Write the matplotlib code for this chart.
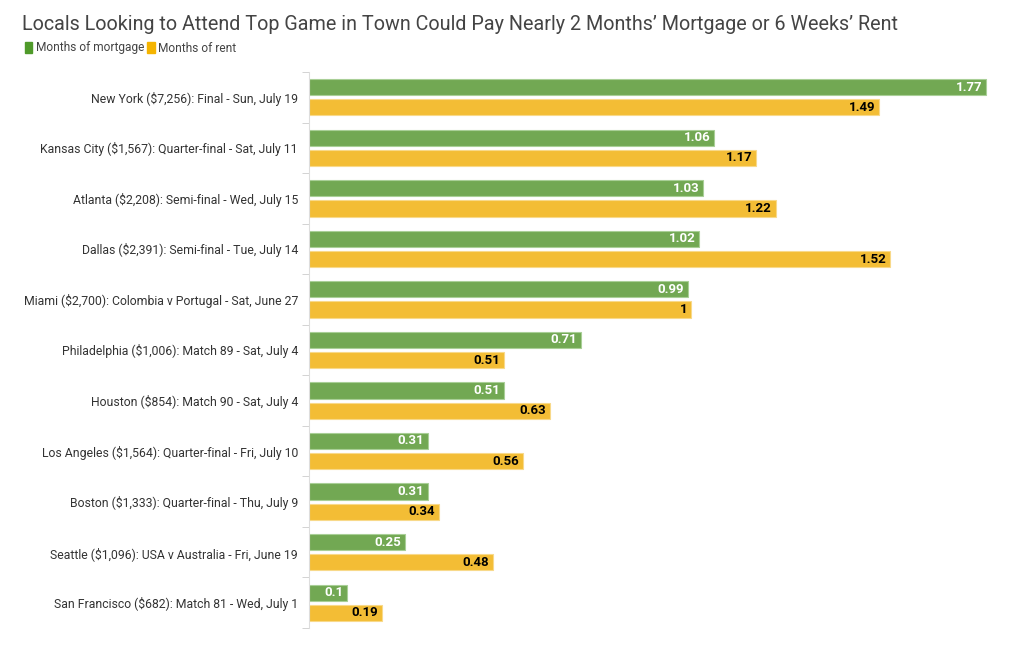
import matplotlib.pyplot as plt
from matplotlib.patches import Patch
import numpy as np

plt.rcParams["font.family"] = ["Roboto", "DejaVu Sans"]

labels = [
    "New York ($7,256): Final - Sun, July 19",
    "Kansas City ($1,567): Quarter-final - Sat, July 11",
    "Atlanta ($2,208): Semi-final - Wed, July 15",
    "Dallas ($2,391): Semi-final - Tue, July 14",
    "Miami ($2,700): Colombia v Portugal - Sat, June 27",
    "Philadelphia ($1,006): Match 89 - Sat, July 4",
    "Houston ($854): Match 90 - Sat, July 4",
    "Los Angeles ($1,564): Quarter-final - Fri, July 10",
    "Boston ($1,333): Quarter-final - Thu, July 9",
    "Seattle ($1,096): USA v Australia - Fri, June 19",
    "San Francisco ($682): Match 81 - Wed, July 1",
]
mortgage = [1.77, 1.06, 1.03, 1.02, 0.99, 0.71, 0.51, 0.31, 0.31, 0.25, 0.1]
rent = [1.49, 1.17, 1.22, 1.52, 1, 0.51, 0.63, 0.56, 0.34, 0.48, 0.19]

green = "#72a853"
yellow = "#f3bd35"

fig = plt.figure(figsize=(10.24, 6.53), dpi=100)
ax = fig.add_axes([309 / 1024, 1 - 628 / 653, 701 / 1024, 556 / 653])

y = np.arange(len(labels))
h = 0.32
gb = ax.barh(y - 0.2, mortgage, height=h, color=green, edgecolor="#a9cf97", linewidth=0.8)
yb = ax.barh(y + 0.2, rent, height=h, color=yellow, edgecolor="#f8d98a", linewidth=0.8)

for bar, v in zip(gb, mortgage):
    ax.text(bar.get_width() - 0.01, bar.get_y() + bar.get_height() / 2, f"{v:g}",
            ha="right", va="center", color="white", fontsize=9.5, fontweight="bold")
for bar, v in zip(yb, rent):
    ax.text(bar.get_width() - 0.01, bar.get_y() + bar.get_height() / 2, f"{v:g}",
            ha="right", va="center", color="black", fontsize=9.5, fontweight="bold")

ax.set_xlim(0, 1.833)
ax.set_ylim(len(labels) - 0.5, -0.5)
ax.set_yticks(y)
ax.set_yticklabels(labels, fontsize=8.8, color="#333333")
ax.set_yticks(np.arange(-0.5, len(labels) + 0.5, 1), minor=True)
ax.tick_params(axis="y", which="major", length=0, pad=8)
ax.tick_params(axis="y", which="minor", length=5, color="#cccccc")
ax.set_xticks([])
for s in ["top", "right", "bottom"]:
    ax.spines[s].set_visible(False)
ax.spines["left"].set_color("#dddddd")

fig.text(22 / 1024, 1 - 25 / 653, "Locals Looking to Attend Top Game in Town Could Pay Nearly 2 Months\u2019 Mortgage or 6 Weeks\u2019 Rent",
         fontsize=14.2, color="#444444", va="center", ha="left")
handles = [Patch(color="#4f9a2a", label="Months of mortgage"), Patch(color="#f5b400", label="Months of rent")]
fig.legend(handles=handles, loc="center left", bbox_to_anchor=(14 / 1024, 1 - 48 / 653), ncol=2,
           frameon=False, fontsize=8.6, handlelength=0.6, handleheight=1.1, handletextpad=0.3,
           columnspacing=0.3, labelcolor="#444444")

fig.savefig("out.png", dpi=100)
